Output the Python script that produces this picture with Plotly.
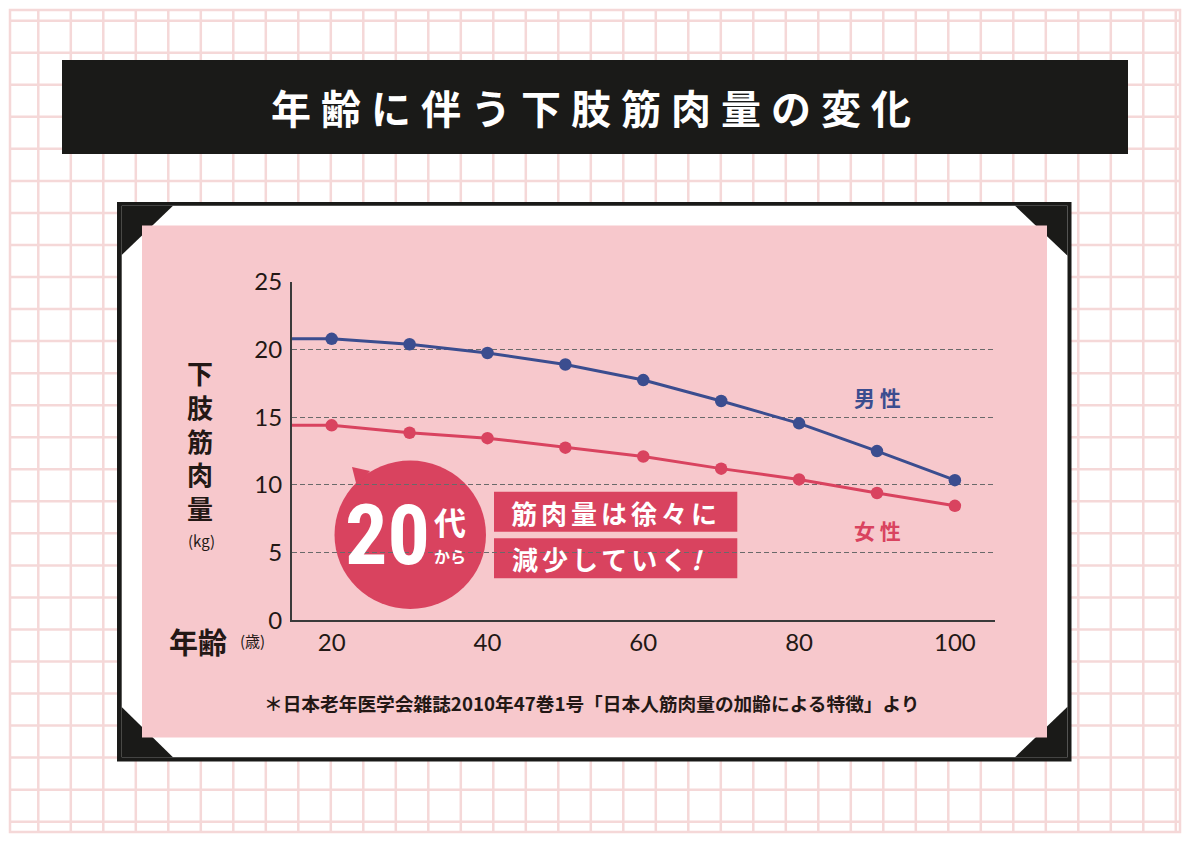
import plotly.graph_objects as go

W, H = 1191, 842

# ---- data ----
ages = [20, 30, 40, 50, 60, 70, 80, 90, 100]
male = [20.8, 20.4, 19.75, 18.9, 17.75, 16.2, 14.55, 12.5, 10.35]
female = [14.4, 13.85, 13.45, 12.75, 12.1, 11.2, 10.4, 9.4, 8.45]
x_ticks = [20, 40, 60, 80, 100]
y_ticks = [0, 5, 10, 15, 20, 25]
x_range = [14.87, 105.15]
y_range = [0, 25]

title_text = "年齢に伴う下肢筋肉量の変化"
male_label = "男 性"
female_label = "女 性"
note_text = "＊日本老年医学会雑誌2010年47巻1号「日本人筋肉量の加齢による特徴」より"

BLUE = "#3b4d8f"
RED = "#d9435f"
PINK = "#f7c8cc"
DARK = "#231815"
BLACK = "#1a1a18"
GRID = "#f5d8d8"
CJK = "Noto Sans CJK JP"


def px(x):
    return x / W


def py(y):
    return 1 - y / H


shapes = []


def rect(x0, y0, x1, y1, color, layer="below", line=None):
    shapes.append(dict(type="rect", xref="paper", yref="paper",
                       x0=px(x0), x1=px(x1), y0=py(y1), y1=py(y0),
                       fillcolor=color, line=line or dict(width=0), layer=layer))


def poly(pts, color, layer="below"):
    d = "M " + " L ".join(f"{px(a):.5f},{py(b):.5f}" for a, b in pts) + " Z"
    shapes.append(dict(type="path", xref="paper", yref="paper", path=d,
                       fillcolor=color, line=dict(width=0), layer=layer))


# background graph-paper grid
for k in range(36):
    x = 38.3 + 32.5 * k
    shapes.append(dict(type="line", xref="paper", yref="paper", x0=px(x), x1=px(x),
                       y0=py(10), y1=py(832), line=dict(color=GRID, width=2.5), layer="below"))
for k in range(26):
    y = 20.7 + 32.04 * k
    shapes.append(dict(type="line", xref="paper", yref="paper", x0=px(10), x1=px(1180),
                       y0=py(y), y1=py(y), line=dict(color=GRID, width=2.5), layer="below"))
shapes.append(dict(type="rect", xref="paper", yref="paper", x0=px(10), x1=px(1180),
                   y0=py(832), y1=py(10), line=dict(color=GRID, width=2.5), layer="below"))

# title bar
rect(62, 60, 1128, 154, BLACK)

# framed panel
rect(117, 202, 1071.5, 761.5, BLACK)
rect(121.7, 205.7, 1067.5, 757.3, "white")
poly([(121.7, 205.7), (173, 205.7), (121.7, 255)], BLACK)
poly([(1015, 205.7), (1067.5, 205.7), (1067.5, 255.7)], BLACK)
poly([(1067.5, 706.7), (1067.5, 757.3), (1015, 757.3)], BLACK)
poly([(121.7, 707), (121.7, 757.3), (173, 757.3)], BLACK)
rect(142, 225.5, 1047, 737.5, PINK)

# speech bubble and text boxes
shapes.append(dict(type="circle", xref="paper", yref="paper",
                   x0=px(334.5), x1=px(486), y0=py(609), y1=py(460.5),
                   fillcolor=RED, line=dict(width=0), layer="between"))
poly([(352, 467), (357, 487), (370, 471)], RED, layer="between")
rect(494, 491.7, 737.3, 531.7, RED, layer="between")
rect(494, 538.3, 737.3, 578.3, RED, layer="between")

# ---- traces ----
fig = go.Figure()
for vals, col in [(male, BLUE), (female, RED)]:
    fig.add_trace(go.Scatter(x=[x_range[0], ages[0]], y=[vals[0], vals[0]], mode="lines",
                             line=dict(color=col, width=3), hoverinfo="skip", showlegend=False))
    fig.add_trace(go.Scatter(x=ages, y=vals, mode="lines+markers",
                             line=dict(color=col, width=3),
                             marker=dict(color=col, size=12.5), showlegend=False))

annotations = []


def text(x, y, t, size, color=DARK, weight="normal", family=CJK, xanchor="center"):
    annotations.append(dict(x=px(x), y=py(y), xref="paper", yref="paper", text=t,
                            showarrow=False, xanchor=xanchor, yanchor="middle",
                            font=dict(size=size, color=color, family=family, weight=weight)))


text(596, 107, f'<span style="letter-spacing:10px">{title_text}</span>', 40, "white", "bold")
text(200, 440, "<br>".join(list("下肢筋肉量")), 26, DARK, "bold")
text(201, 540, "(kg)", 15, DARK, "normal")
text(198, 641, "年齢", 29, DARK, "bold")
text(252, 640, "(歳)", 15, DARK, "normal")
text(878, 397, male_label, 21, BLUE, "bold")
text(878, 530, female_label, 21, RED, "bold")
text(387.5, 535, '<span style="font-stretch:condensed">20</span>', 84, "white", "bold",
     family="Roboto Condensed, Liberation Sans Narrow, Noto Sans")
text(450, 521, "代", 32, "white", "bold")
text(450, 556, "から", 16, "white", "bold")
text(615.5, 512, '<span style="letter-spacing:4px">筋肉量は徐々に</span>', 26, "white", "bold")
text(608, 558, '<span style="letter-spacing:4px">減少していく<i>!</i></span>', 26, "white", "bold")
text(592, 702, note_text, 18.7, DARK, "bold")

fig.update_layout(
    width=W, height=H, margin=dict(l=0, r=0, t=0, b=0, pad=0, autoexpand=False),
    paper_bgcolor="white", plot_bgcolor="rgba(0,0,0,0)",
    shapes=shapes, annotations=annotations, showlegend=False,
    xaxis=dict(domain=[px(291.7), px(995)], range=x_range, tickvals=x_ticks, automargin=False,
               showgrid=False, zeroline=False, showline=True, linecolor="#3a3a3a", linewidth=1.5,
               ticks="", ticklabelstandoff=0,
               tickfont=dict(family="Lato, Noto Sans", size=24, color=DARK)),
    yaxis=dict(domain=[py(620.1), py(282)], range=y_range, tickvals=y_ticks, automargin=False,
               showgrid=True, gridcolor="#6a6a6a", gridwidth=1.4, griddash="5px,3px",
               zeroline=False, showline=True, linecolor="#3a3a3a", linewidth=1.5,
               ticks="", ticklabelstandoff=3,
               tickfont=dict(family="Lato, Noto Sans", size=24, color=DARK)),
)

fig.write_html("out.html")
